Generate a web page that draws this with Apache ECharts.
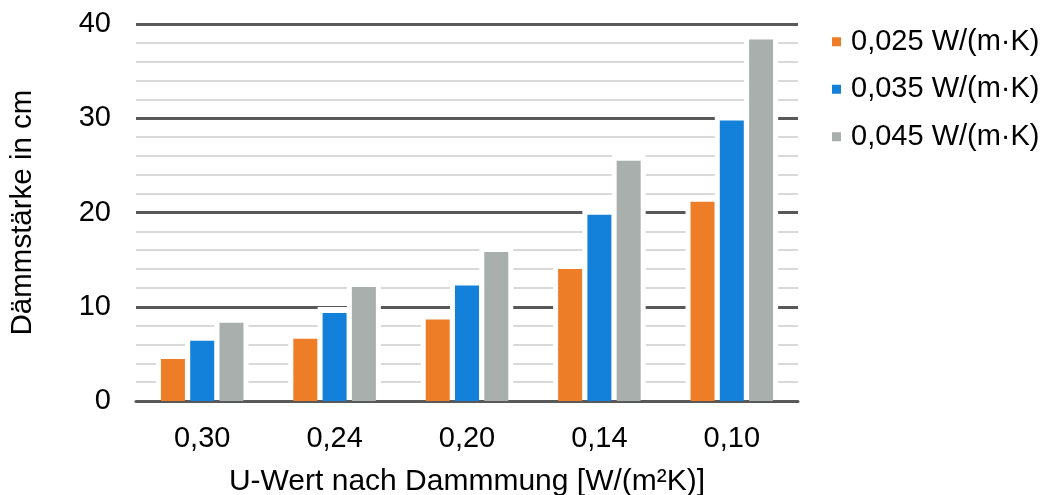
<!DOCTYPE html>
<html>
<head>
<meta charset="utf-8">
<script src="https://cdn.jsdelivr.net/npm/echarts@6/dist/echarts.min.js"></script>
<style>
html,body{margin:0;padding:0;background:#fff;}
#chart{width:1042px;height:495px;}
</style>
</head>
<body>
<div id="chart"></div>
<script>
const categories = ['0,30', '0,24', '0,20', '0,14', '0,10'];
const seriesNames = ['0,025 W/(m·K)', '0,035 W/(m·K)', '0,045 W/(m·K)'];
const s025 = [4.45, 6.6, 8.65, 14.0, 21.15];
const s035 = [6.4, 9.35, 12.25, 19.75, 29.75];
const s045 = [8.3, 12.1, 15.8, 25.5, 38.35];
const yTitle = 'Dämmstärke in cm';
const xTitle = 'U-Wert nach Dammmung [W/(m²K)]';
const colors = ['#EE7D28', '#1381DA', '#A8AFAD'];

const FONT = 'Arial, "Liberation Sans", sans-serif';
const FS = 29;
const BW = 24;
const GAP = 0.22;
const PITCH = BW * (1 + GAP);

const haloData = categories.map((c, i) => [i, s025[i], s035[i], s045[i]]);

const chart = echarts.init(document.getElementById('chart'));
chart.setOption({
  animation: false,
  backgroundColor: '#fff',
  textStyle: { fontFamily: FONT },
  grid: { left: 136, right: 244, top: 24, bottom: 94, containLabel: false, outerBoundsMode: 'none' },
  legend: {
    orient: 'vertical', left: 827, top: 13,
    data: seriesNames,
    icon: 'rect', itemWidth: 9, itemHeight: 9, itemGap: 0,
    textStyle: { fontSize: FS, lineHeight: 47.5, color: '#000', fontFamily: FONT, padding: [0, 0, 0, 5] }
  },
  xAxis: {
    type: 'category', data: categories,
    axisLine: { lineStyle: { color: '#595959', width: 3 } },
    axisTick: { inside: true, length: 6, lineStyle: { color: '#595959', width: 3 } },
    axisLabel: { fontSize: FS, color: '#000', margin: 23, fontFamily: FONT },
    name: xTitle, nameLocation: 'middle', nameGap: 66,
    nameTextStyle: { fontSize: 30, color: '#000', fontFamily: FONT }
  },
  yAxis: {
    type: 'value', min: 0, max: 40, interval: 10,
    axisLine: { show: false }, axisTick: { show: false },
    axisLabel: { fontSize: FS, color: '#000', margin: 25, fontFamily: FONT },
    splitLine: { lineStyle: { color: '#595959', width: 3 } },
    minorTick: { show: false, splitNumber: 5 },
    minorSplitLine: { show: true, lineStyle: { color: '#D9D9D9', width: 2 } },
    name: yTitle, nameLocation: 'middle', nameGap: 98,
    nameTextStyle: { fontSize: 29.5, color: '#000', fontFamily: FONT }
  },
  series: [
    {
      type: 'custom', silent: true, z: 2,
      data: haloData,
      encode: { x: 0, y: [1, 2, 3] },
      renderItem: function (params, api) {
        const i = api.value(0);
        const base = api.coord([i, 0]);
        const children = [];
        for (let k = 0; k < 3; k++) {
          const top = api.coord([i, api.value(k + 1)])[1];
          const cx = base[0] + (k - 1) * PITCH;
          children.push({
            type: 'rect',
            shape: { x: cx - BW / 2 - 5, y: top - 6, width: BW + 10, height: (base[1] - 1.5) - (top - 6) },
            style: { fill: '#fff' }
          });
        }
        return { type: 'group', children: children };
      }
    },
    { name: seriesNames[0], type: 'bar', data: s025, barWidth: BW, barGap: (GAP * 100) + '%', z: 3, itemStyle: { color: colors[0] } },
    { name: seriesNames[1], type: 'bar', data: s035, barWidth: BW, barGap: (GAP * 100) + '%', z: 3, itemStyle: { color: colors[1] } },
    { name: seriesNames[2], type: 'bar', data: s045, barWidth: BW, barGap: (GAP * 100) + '%', z: 3, itemStyle: { color: colors[2] } }
  ]
});
</script>
</body>
</html>
